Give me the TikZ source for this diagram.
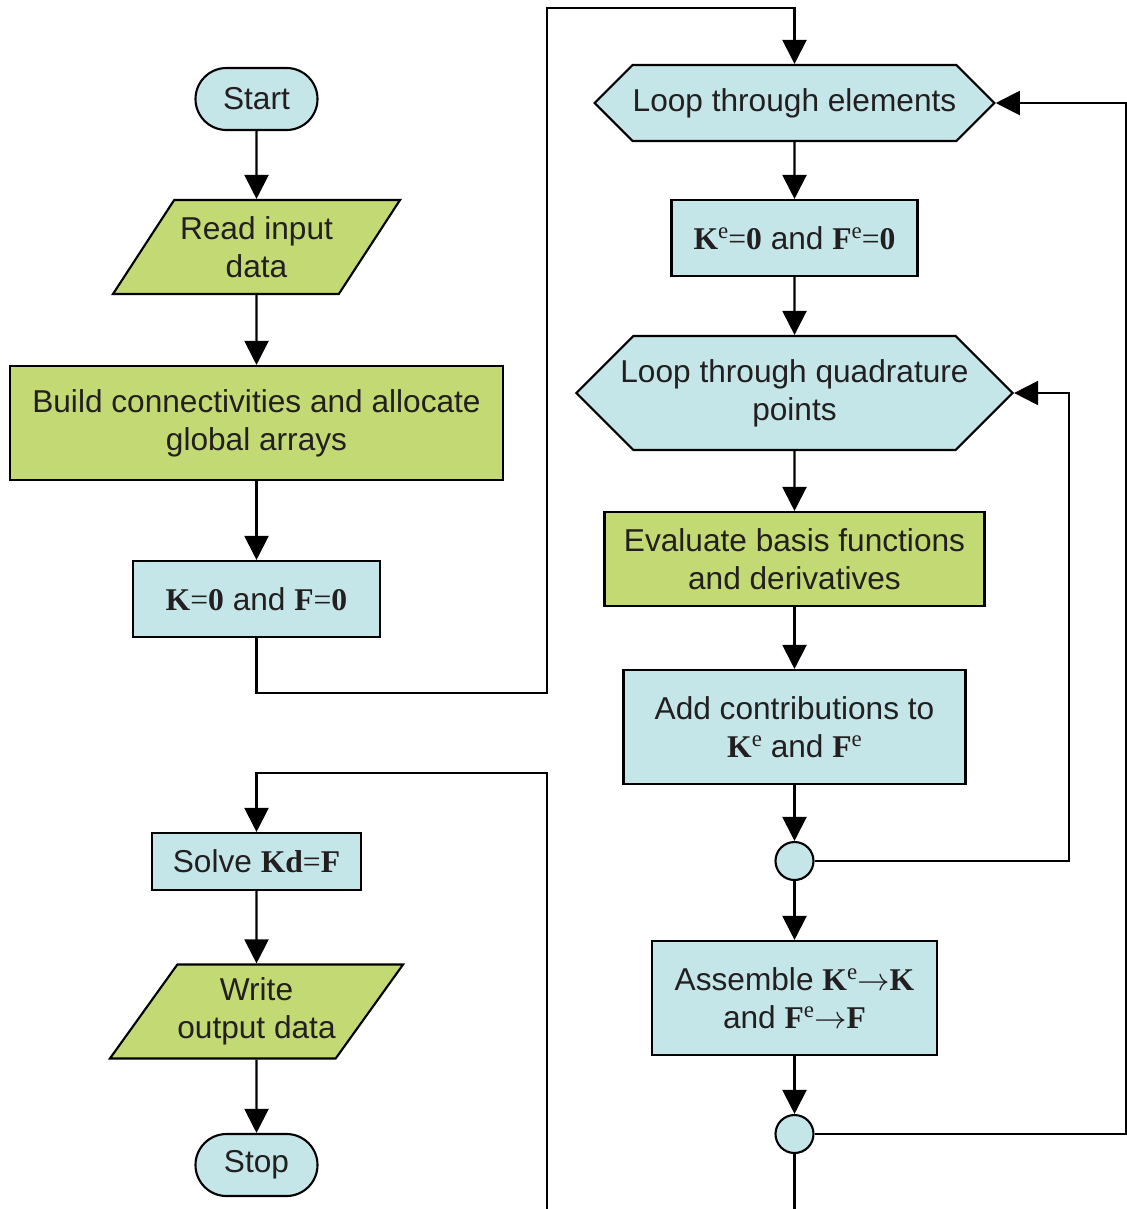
\documentclass[tikz,border=0pt]{standalone}
\usepackage{fontspec}
\setmainfont{Liberation Sans}
\newfontfamily\tms{Liberation Serif}
\usepackage{tikz}
\usetikzlibrary{shapes.geometric,shapes.symbols,arrows.meta}

\definecolor{fillblue}{RGB}{197,230,232}
\definecolor{fillgreen}{RGB}{195,217,116}
\definecolor{inkgray}{RGB}{35,31,32}

\newcommand{\bv}[1]{{\tms\bfseries #1}}
\newcommand{\eqs}{{\tms =}}
\newcommand{\supe}{\raisebox{3pt}{\tms\fontsize{6.5}{6.5}\selectfont e}}
\newcommand{\goes}{\(\rightarrow\)}

\begin{document}
\begin{tikzpicture}[line width=0.6pt,
    font=\fontsize{9}{10.8}\selectfont,
    every node/.style={text=inkgray, align=center, inner sep=0pt, line width=0.6pt},
    arr/.style={-{Triangle[length=2.4mm, width=2.4mm]}},
    term/.style={draw, fill=fillblue, rectangle, rounded corners=3.1mm, minimum width=1.22cm, minimum height=0.62cm},
    iobox/.style={draw, fill=fillgreen, trapezium, trapezium left angle=45, trapezium right angle=135, trapezium stretches body, minimum width=2.87cm, minimum height=0.94cm},
    procb/.style={draw, fill=fillblue, rectangle},
    procg/.style={draw, fill=fillgreen, rectangle},
    loopbox/.style={draw, fill=fillblue, signal, signal to=east and west, signal pointer angle=90},
    dot/.style={draw, fill=fillblue, circle, minimum size=0.38cm}]
    \useasboundingbox (0,0) rectangle (11.27,-12.09);

    % left column
    \node[term] (start) at (2.565,-0.99) {Start};
    \node[iobox] (read) at (2.565,-2.47) {Read input\\data};
    \node[procg, minimum width=4.93cm, minimum height=1.14cm] (build) at (2.565,-4.23) {Build connectivities and allocate\\global arrays};
    \node[procb, minimum width=2.47cm, minimum height=0.76cm] (kzero) at (2.565,-5.99) {\bv{K}\eqs\bv{0} and \bv{F}\eqs\bv{0}};
    \node[procb, minimum width=2.09cm, minimum height=0.57cm] (solve) at (2.565,-8.615) {Solve \bv{Kd}\eqs\bv{F}};
    \node[iobox] (write) at (2.565,-10.115) {Write\\output data};
    \node[term] (stop) at (2.565,-11.65) {Stop};

    % right column
    \node[loopbox, minimum width=3.96cm, minimum height=0.76cm] (loopE) at (7.945,-1.03) {Loop through elements};
    \node[procb, minimum width=2.46cm, minimum height=0.76cm] (kezero) at (7.945,-2.38) {\bv{K}\supe\eqs\bv{0} and \bv{F}\supe\eqs\bv{0}};
    \node[loopbox, inner xsep=-0.13cm, minimum width=4.36cm, minimum height=1.14cm] (loopQ) at (7.945,-3.93) {Loop through quadrature\\points};
    \node[procg, minimum width=3.80cm, minimum height=0.94cm] (evalB) at (7.945,-5.59) {Evaluate basis functions\\and derivatives};
    \node[procb, minimum width=3.42cm, minimum height=1.14cm] (addC) at (7.945,-7.27) {Add contributions to\\\bv{K}\supe{} and \bv{F}\supe};
    \node[dot] (endQ) at (7.945,-8.61) {};
    \node[procb, minimum width=2.85cm, minimum height=1.14cm] (asm) at (7.945,-9.98) {Assemble \bv{K}\supe\goes\bv{K}\\and \bv{F}\supe\goes\bv{F}};
    \node[dot] (endE) at (7.945,-11.34) {};

    \coordinate (jumpA) at (5.47,-6.93);
    \coordinate (jumpB) at (5.47,-0.08);
    \coordinate (retQ) at (10.69,-8.61);
    \coordinate (retE) at (11.26,-11.34);
    \coordinate (outE) at (7.945,-12.09);
    \coordinate (outS) at (5.47,-12.09);
    \coordinate (turnS) at (5.47,-7.73);

    \draw[arr] (start) -- (read);
    \draw[arr] (read) -- (build);
    \draw[arr] (build) -- (kzero);
    \draw[arr] (kzero.south) |- (jumpA) -- (jumpB) -| (loopE.north);
    \draw[arr] (loopE) -- (kezero);
    \draw[arr] (kezero) -- (loopQ);
    \draw[arr] (loopQ) -- (evalB);
    \draw[arr] (evalB) -- (addC);
    \draw[arr] (addC) -- (endQ);
    \draw[arr] (endQ) -- (asm);
    \draw[arr] (asm) -- (endE);
    \draw[arr] (endQ) -- (retQ) |- (loopQ.east);
    \draw[arr] (endE) -- (retE) |- (loopE.east);
    \draw (endE) -- (outE);
    \draw[arr] (outS) -- (turnS) -| (solve.north);
    \draw[arr] (solve) -- (write);
    \draw[arr] (write) -- (stop);
\end{tikzpicture}
\end{document}
